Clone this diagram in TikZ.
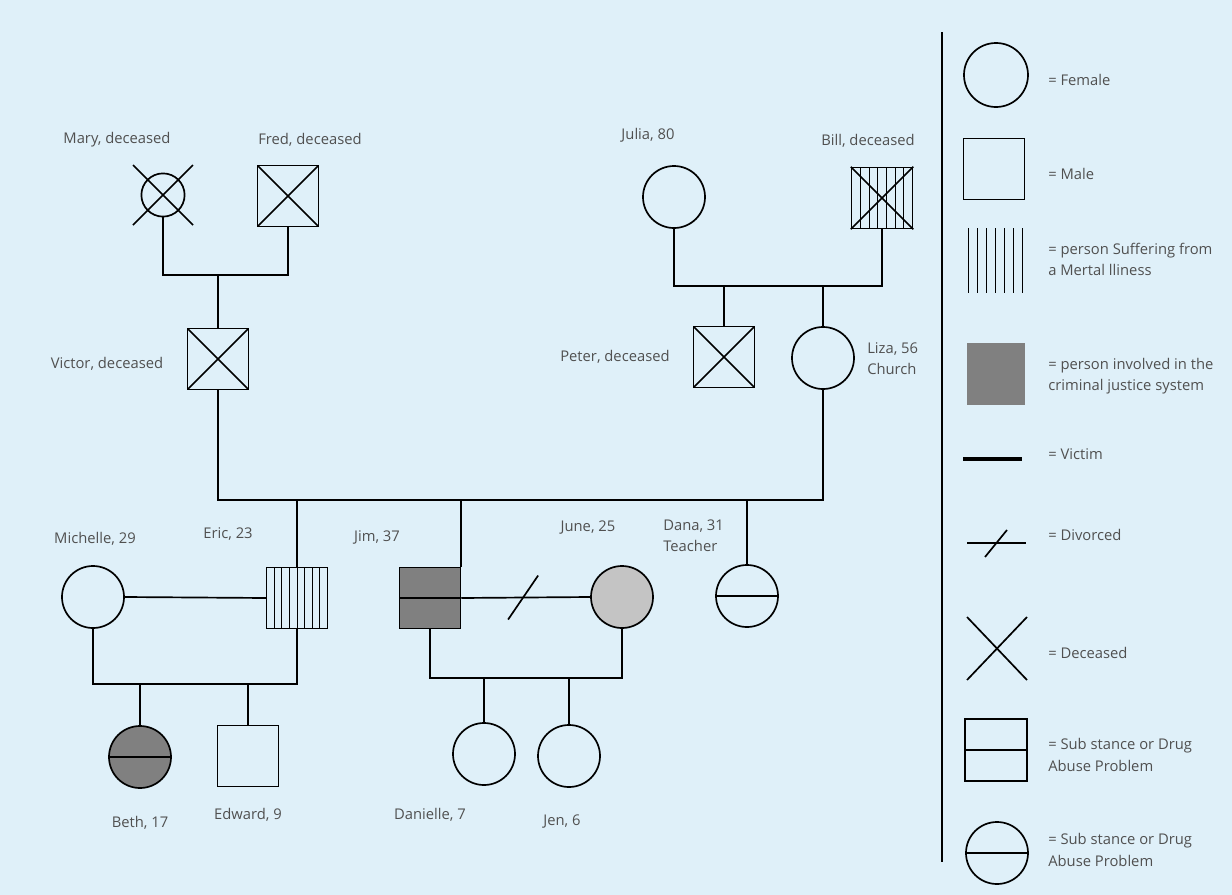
\documentclass[tikz,border=0pt]{standalone}
\usepackage{fontspec}
\setmainfont{Open Sans}
\usetikzlibrary{
  calc     % midpoints for the divorce slash and hatching
}

\definecolor{bgblue}{RGB}{223,240,249}
\definecolor{txtgray}{RGB}{80,80,80}
\definecolor{darkfill}{RGB}{128,128,128}
\definecolor{lightfill}{RGB}{196,196,196}

\tikzset{
  person/.style={draw=black, line width=1.2pt, inner sep=0pt},
  female/.style={person, circle, minimum size=1.55cm},
  male/.style={person, rectangle, minimum size=1.52cm},
  link/.style={line width=1.2pt},
  lbl/.style={text=txtgray, font=\fontsize{10.5}{15}\selectfont, inner sep=0pt},
  keytext/.style={lbl, anchor=west, align=left},
  % pattern inside a symbol
  crossed/.style={path picture={
    \draw[line width=1.2pt] (path picture bounding box.north west) -- (path picture bounding box.south east)
      (path picture bounding box.south west) -- (path picture bounding box.north east);}},
  halved/.style={path picture={
    \draw[line width=1.2pt] (path picture bounding box.west) -- (path picture bounding box.east);}},
  hatched/.style={path picture={
    \foreach \k in {1,...,#1}
      \draw[line width=0.6pt]
        ($(path picture bounding box.north west)!\k/(#1+1)!(path picture bounding box.north east)$) --
        ($(path picture bounding box.south west)!\k/(#1+1)!(path picture bounding box.south east)$);}}
}

\begin{document}
\begin{tikzpicture}[x=0.025cm, y=-0.025cm] % one unit = one pixel of the reference

  \fill[bgblue] (0,0) rectangle (1232,895);
  \useasboundingbox (0,0) rectangle (1232,895);

  % =============== grandparents, left side ===============
  \node[female, minimum size=1.08cm] (mary) at (163,195) {};
  \draw[link] (mary.center) ++(-30,-30) -- ++(60,60);
  \draw[link] (mary.center) ++(-30,30) -- ++(60,-60);
  \node[male, crossed] (fred) at (288,196) {};
  \node[lbl] (marylbl) at (117,140) {Mary, deceased};
  \node[lbl] (fredlbl) at (310,140) {Fred, deceased};

  \coordinate (mf) at (218,275);
  \draw[link] (mary.south) |- (mf) -| (fred.south);

  \node[male, crossed] (victor) at (218,359) {};
  \node[lbl] (victorlbl) at (107,364) {Victor, deceased};
  \draw[link] (mf) -- (victor.north);

  % =============== grandparents, right side ===============
  \node[female] (julia) at (674,197) {};
  \node[male, hatched=6] (bill) at (882,198) {};
  \draw[link] (bill.north west) -- (bill.south east) (bill.south west) -- (bill.north east);
  \node[lbl] (julialbl) at (648,135) {Julia, 80};
  \node[lbl] (billlbl) at (868,141) {Bill, deceased};

  \coordinate (jb) at (778,286);
  \draw[link] (julia.south) |- (jb) -| (bill.south);

  \node[male, crossed] (peter) at (724,357) {};
  \node[female] (liza) at (823,358) {};
  \node[lbl] (peterlbl) at (615,357) {Peter, deceased};
  \node[keytext] (lizalbl) at (867,359) {Liza, 56\\Church};
  \draw[link] (peter.north) -- (peter.north |- jb);
  \draw[link] (liza.north) -- (liza.north |- jb);

  % =============== children of Victor and Liza ===============
  \coordinate (vl) at (460,500);
  \draw[link] (victor.south) |- (vl) -| (liza.south);

  \node[male, draw=black, line width=0.5pt, hatched=7] (eric) at (297,598) {};
  \node[male, fill=darkfill, halved] (jim) at (430,598) {};
  \node[female, halved] (dana) at (747,596) {};
  \draw[link] (eric.north) -- (eric.north |- vl);
  \draw[link] (jim.north east) -- (jim.north east |- vl);
  \draw[link] (dana.north) -- (dana.north |- vl);
  \node[lbl] (ericlbl) at (228,534) {Eric, 23};
  \node[lbl] (jimlbl) at (377,537) {Jim, 37};
  \node[keytext] (danalbl) at (663,536) {Dana, 31\\Teacher};

  % =============== partners ===============
  \node[female] (michelle) at (93,597) {};
  \node[female, fill=lightfill] (june) at (622,597) {};
  \node[lbl] (michellelbl) at (95,539) {Michelle, 29};
  \node[lbl] (junelbl) at (588,528) {June, 25};
  \draw[link] (michelle.east) -- (eric.west);
  \draw[link] (jim.east) -- (june.west);
  \draw[link] ($(jim.east)!0.48!(june.west)$) ++(-15,22) -- ++(30,-44);

  % =============== grandchildren ===============
  \coordinate (me) at (195,684);
  \draw[link] (michelle.south) |- (me) -| (eric.south);
  \node[female, fill=darkfill, halved] (beth) at (140,757) {};
  \node[male] (edward) at (248,756) {};
  \draw[link] (beth.north) -- (beth.north |- me);
  \draw[link] (edward.north) -- (edward.north |- me);
  \node[lbl] (bethlbl) at (140,823) {Beth, 17};
  \node[lbl] (edwardlbl) at (248,815) {Edward, 9};

  \coordinate (jj) at (526,678);
  \draw[link] (jim.south) |- (jj) -| (june.south);
  \node[female] (danielle) at (484,754) {};
  \node[female] (jen) at (569,756) {};
  \draw[link] (danielle.north) -- (danielle.north |- jj);
  \draw[link] (jen.north) -- (jen.north |- jj);
  \node[lbl] (daniellelbl) at (430,815) {Danielle, 7};
  \node[lbl] (jenlbl) at (562,822) {Jen, 6};

  % =============== legend ===============
  \draw[link] (942,32) -- (942,862);

  \node[female, minimum size=1.6cm] (kfemale) at (996,75) {};
  \node[keytext] at (1048,80) {= Female};

  \node[male] (kmale) at (994,169) {};
  \node[keytext] at (1048,174) {= Male};

  \foreach \k in {0,...,6}
    \draw[line width=0.7pt] (968+9*\k,228) -- (968+9*\k,293);
  \node[keytext] at (1048,259) {= person Suffering from\\a Mertal lliness};

  \fill[darkfill] (967,343) rectangle (1025,405);
  \node[keytext] at (1048,376) {= person involved in the\\criminal justice system};

  \draw[line width=3.5pt] (963,459) -- (1022,459);
  \node[keytext] at (1048,454) {= Victim};

  \draw[line width=1.6pt] (967,543) -- (1026,543);
  \draw[link] (985,557) -- (1007,530);
  \node[keytext] at (1048,535) {= Divorced};

  \draw[link] (967,617) -- (1027,680) (967,680) -- (1027,617);
  \node[keytext] at (1048,653) {= Deceased};

  \node[male, minimum size=1.55cm, halved] (ksubsq) at (996,750) {};
  \node[keytext] at (1048,755) {= Sub stance or Drug\\Abuse Problem};

  \node[female, halved] (ksubci) at (997,853) {};
  \node[keytext] at (1048,850) {= Sub stance or Drug\\Abuse Problem};

\end{tikzpicture}
\end{document}
